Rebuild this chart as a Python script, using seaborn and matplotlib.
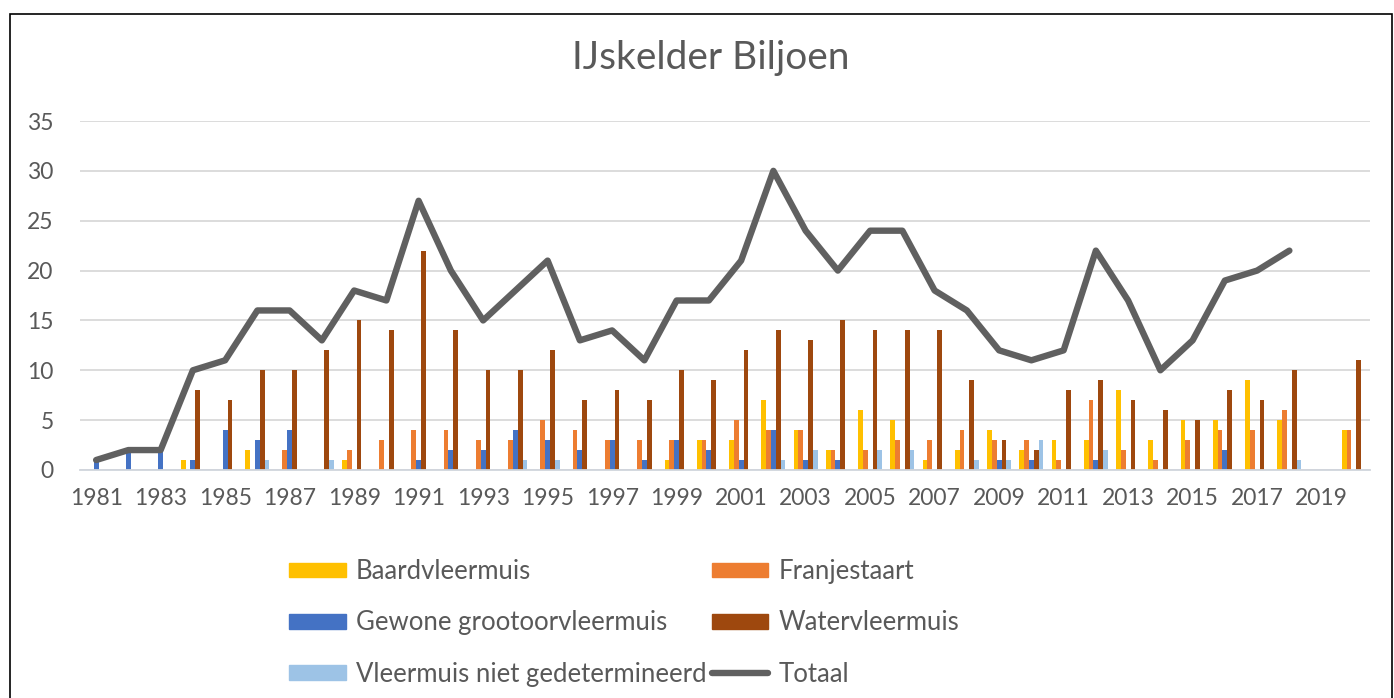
import numpy as np
import pandas as pd
import matplotlib
matplotlib.use('Agg')
import matplotlib.pyplot as plt
from matplotlib.patches import Rectangle, Patch
from matplotlib.lines import Line2D
import seaborn as sns

# jaren 1981 - 2020
jaren = [str(j) for j in range(1981, 2021)]

baard = [0, 0, 0, 1, 0, 2, 0, 0, 1, 0, 0, 0, 0, 0, 0, 0, 0, 0, 1, 3,
         3, 7, 4, 2, 6, 5, 1, 2, 4, 2, 3, 3, 8, 3, 5, 5, 9, 5, 0, 4]
franje = [0, 0, 0, 0, 0, 0, 2, 0, 2, 3, 4, 4, 3, 3, 5, 4, 3, 3, 3, 3,
          5, 4, 4, 2, 2, 3, 3, 4, 3, 3, 1, 7, 2, 1, 3, 4, 4, 6, 0, 4]
grootoor = [1, 2, 2, 1, 4, 3, 4, 0, 0, 0, 1, 2, 2, 4, 3, 2, 3, 1, 3, 2,
            1, 4, 1, 1, 0, 0, 0, 0, 1, 1, 0, 1, 0, 0, 0, 2, 0, 0, 0, 0]
water = [0, 0, 0, 8, 7, 10, 10, 12, 15, 14, 22, 14, 10, 10, 12, 7, 8, 7, 10, 9,
         12, 14, 13, 15, 14, 14, 14, 9, 3, 2, 8, 9, 7, 6, 5, 8, 7, 10, 0, 11]
onbekend = [0, 0, 0, 0, 0, 1, 0, 1, 0, 0, 0, 0, 0, 1, 1, 0, 0, 0, 0, 0,
            0, 1, 2, 0, 2, 2, 0, 1, 1, 3, 0, 2, 0, 0, 0, 0, 0, 1, 0, 0]
totaal = [1, 2, 2, 10, 11, 16, 16, 13, 18, 17, 27, 20, 15, 18, 21, 13, 14, 11, 17, 17,
          21, 30, 24, 20, 24, 24, 18, 16, 12, 11, 12, 22, 17, 10, 13, 19, 20, 22,
          np.nan, np.nan]

soorten = ['Baardvleermuis', 'Franjestaart', 'Gewone grootoorvleermuis',
           'Watervleermuis', 'Vleermuis niet gedetermineerd']
kleuren = ['#FFC000', '#ED7D31', '#4472C4', '#9E480E', '#9DC3E6']

# lange tabel voor seaborn
df = pd.DataFrame({'Jaar': jaren, soorten[0]: baard, soorten[1]: franje,
                   soorten[2]: grootoor, soorten[3]: water, soorten[4]: onbekend})
lang = df.melt(id_vars='Jaar', var_name='Soort', value_name='Aantal')

sns.set_theme(style='white')
plt.rcParams['font.family'] = ['Lato', 'DejaVu Sans']

fig = plt.figure(figsize=(13.94, 6.98), dpi=100)
ax = fig.add_axes([80 / 1394, 1 - 470 / 698, 1290 / 1394, 349 / 698])

sns.barplot(data=lang, x='Jaar', y='Aantal', hue='Soort', order=jaren,
            hue_order=soorten, palette=kleuren, saturation=1, width=0.74,
            errorbar=None, legend=False, linewidth=0, ax=ax)
sns.lineplot(x=np.arange(len(jaren)), y=totaal, color='#606060', linewidth=4.6,
             ax=ax, legend=False)

ax.set_xlim(-0.5, len(jaren) - 0.5)
ax.set_ylim(0, 35)
ax.set_yticks(range(0, 36, 5))
ax.set_xticks(range(0, len(jaren), 2))
ax.set_xticklabels(jaren[::2])
ax.set_xlabel('')
ax.set_ylabel('')
ax.grid(axis='y', color='#D9D9D9', linewidth=1.3)
ax.set_axisbelow(True)
for s in ['top', 'right', 'left']:
    ax.spines[s].set_visible(False)
ax.spines['bottom'].set_color('#D0D5DC')
ax.spines['bottom'].set_linewidth(1.3)
ax.tick_params(axis='both', length=0, labelsize=16.5, colors='#595959')
ax.tick_params(axis='y', pad=19)
ax.tick_params(axis='x', pad=13)

fig.text(0.51, 1 - 58 / 698, 'IJskelder Biljoen', ha='center', va='center',
         fontsize=28, color='#595959')

# legenda, rijgewijs zoals in Excel
h = [Patch(color=c) for c in kleuren]
tot = Line2D([0], [0], color='#606060', linewidth=4.6)
handles = [h[0], h[2], h[4], h[1], h[3], tot]
labels = [soorten[0], soorten[2], soorten[4], soorten[1], soorten[3], 'Totaal']
leg = fig.legend(handles, labels, ncol=2, loc='upper left',
                 bbox_to_anchor=(266 / 1394, 1 - 536 / 698), frameon=False,
                 fontsize=18.5, handlelength=2.2, handleheight=0.5,
                 handletextpad=0.4, columnspacing=0.2, labelspacing=1.02)
for t in leg.get_texts():
    t.set_color('#595959')

# kader
fig.patches.append(Rectangle((10 / 1394, -0.01), 1382 / 1394, 1.01 - 14 / 698,
                             transform=fig.transFigure, fill=False,
                             edgecolor='black', linewidth=1.2))

fig.savefig('out.png', dpi=100)
